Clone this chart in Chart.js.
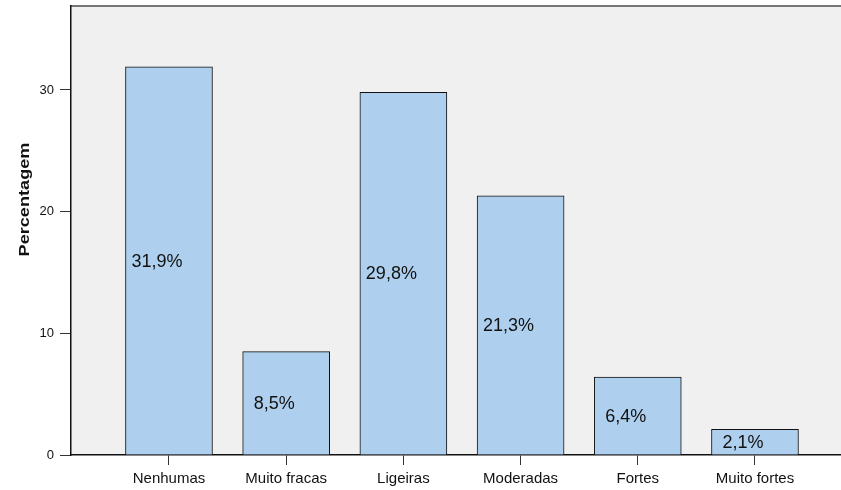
<!DOCTYPE html>
<html>
<head>
<meta charset="utf-8">
<script src="https://cdn.jsdelivr.net/npm/chart.js@4.4.1/dist/chart.umd.min.js"></script>
<style>
    body { margin: 0; background: #ffffff; }
</style>
</head>
<body>
<canvas id="chart-1" width="841" height="490"></canvas>
<script>
// percentagem por categoria
var categorias = ["Nenhumas", "Muito fracas", "Ligeiras", "Moderadas", "Fortes", "Muito fortes"];
var percentagens = [31.9, 8.5, 29.8, 21.3, 6.4, 2.1];
var yTicks = [0, 10, 20, 30];
var tituloY = "Percentagem";

var fonte = "'Liberation Sans', Arial, sans-serif";

// fundo cinza da area do grafico
var fundoPlugin = {
    id: 'fundo',
    beforeDraw: function (chart) {
        var a = chart.chartArea;
        var ctx = chart.ctx;
        ctx.save();
        ctx.fillStyle = '#f0f0f0';
        ctx.fillRect(a.left, a.top, a.right - a.left, a.bottom - a.top);
        ctx.strokeStyle = '#777777';
        ctx.lineWidth = 2;
        ctx.beginPath();
        ctx.moveTo(a.left, a.top);
        ctx.lineTo(a.right, a.top);
        ctx.stroke();
        ctx.restore();
    }
};

// texto "31,9%" dentro de cada barra
var rotulosPlugin = {
    id: 'rotulos',
    afterDatasetsDraw: function (chart) {
        var ctx = chart.ctx;
        var meta = chart.getDatasetMeta(0);
        ctx.save();
        ctx.font = '18px ' + fonte;
        ctx.fillStyle = '#111111';
        ctx.textAlign = 'center';
        ctx.textBaseline = 'middle';
        meta.data.forEach(function (bar, i) {
            var txt = percentagens[i].toFixed(1).replace('.', ',') + '%';
            ctx.fillText(txt, bar.x - 12, (bar.y + bar.base) / 2 + 1);
        });
        ctx.restore();
    }
};

// titulo do eixo y, um pouco esticado no comprimento
var tituloPlugin = {
    id: 'tituloY',
    afterDraw: function (chart) {
        var ctx = chart.ctx;
        ctx.save();
        ctx.translate(29, 199.5);
        ctx.rotate(-Math.PI / 2);
        ctx.scale(1.17, 1);
        ctx.font = 'bold 15.5px ' + fonte;
        ctx.fillStyle = '#111111';
        ctx.textAlign = 'center';
        ctx.textBaseline = 'alphabetic';
        ctx.fillText(tituloY, 0, 0);
        ctx.restore();
    }
};

// sem margens extra dos rotulos nas pontas
function semPadding(scale) {
    scale.paddingTop = 0;
    scale.paddingBottom = 0;
    scale.paddingLeft = 0;
    scale.paddingRight = 0;
}

var ctx = document.getElementById("chart-1").getContext("2d");
var chart_percent = new Chart(ctx, {
    type: "bar",
    data: {
        datasets: [
            {
                data: percentagens.map(function (v, i) { return { x: i, y: v }; }),
                backgroundColor: "#aed0ee",
                borderColor: "#111111",
                borderWidth: 1,
                borderSkipped: "bottom",
                barThickness: 87
            }
        ]
    },
    options: {
        responsive: false,
        animation: false,
        layout: {
            padding: { top: 6, right: 0, bottom: 0, left: 0 }
        },
        scales: {
            x: {
                type: "linear",
                min: -0.836,
                max: 5.734,
                offset: false,
                afterBuildTicks: function (scale) {
                    scale.ticks = categorias.map(function (c, i) { return { value: i }; });
                },
                afterFit: function (scale) {
                    scale.height = 35;
                    semPadding(scale);
                },
                ticks: {
                    callback: function (value) { return categorias[value]; },
                    font: { family: fonte, size: 15 },
                    color: "#111111",
                    padding: 5,
                    maxRotation: 0,
                    autoSkip: false
                },
                grid: {
                    offset: false,
                    drawOnChartArea: false,
                    drawTicks: true,
                    tickLength: 10,
                    tickColor: "#333333"
                },
                border: { display: true, color: "#111111", width: 1.5 }
            },
            y: {
                min: 0,
                max: 36.9,
                afterBuildTicks: function (scale) {
                    scale.ticks = yTicks.map(function (t) { return { value: t }; });
                },
                afterFit: function (scale) {
                    scale.width = 71;
                    semPadding(scale);
                },
                ticks: {
                    font: { family: fonte, size: 13 },
                    color: "#111111",
                    padding: 6
                },
                grid: {
                    drawOnChartArea: false,
                    drawTicks: true,
                    tickLength: 11,
                    tickColor: "#333333"
                },
                border: { display: true, color: "#111111", width: 1.5 }
            }
        },
        plugins: {
            legend: { display: false },
            tooltip: { enabled: false }
        }
    },
    plugins: [fundoPlugin, rotulosPlugin, tituloPlugin]
});
</script>
</body>
</html>
